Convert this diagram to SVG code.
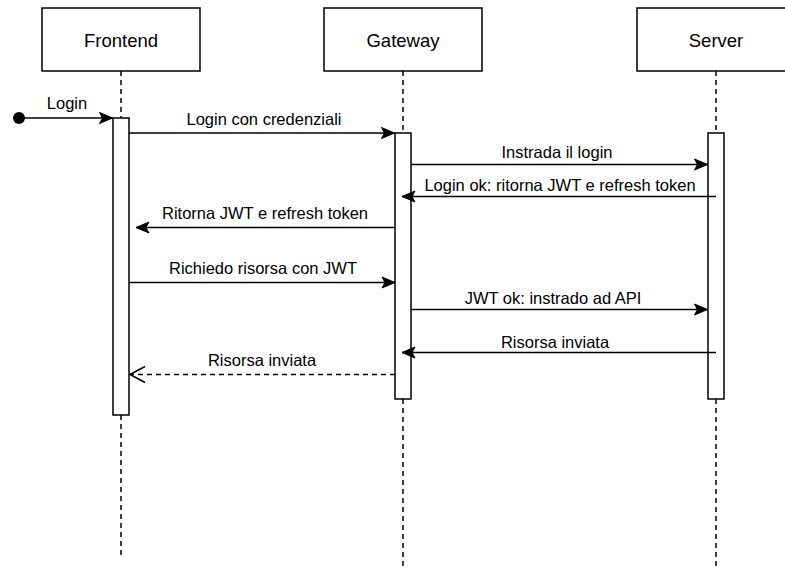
<svg xmlns="http://www.w3.org/2000/svg" width="785" height="568" viewBox="0 0 785 568">
<style>
.box{fill:#fff;stroke:#000;stroke-width:1.5}
.life{fill:none;stroke:#000;stroke-width:1.5;stroke-dasharray:5 4}
.act{fill:#fff;stroke:#000;stroke-width:1.5}
.title{font-family:"Liberation Sans",Arial,sans-serif;font-size:18.5px;fill:#000;text-anchor:middle}
.lbl{font-family:"Liberation Sans",Arial,sans-serif;font-size:16.5px;fill:#000;text-anchor:middle}
.msg{fill:none;stroke:#000;stroke-width:1.5}
.ret{fill:none;stroke:#000;stroke-width:1.5;stroke-dasharray:5 4}
</style>
<defs>
<marker id="arr" viewBox="-14 -7 15 14" refX="0" refY="0" markerWidth="15" markerHeight="14" markerUnits="userSpaceOnUse" orient="auto">
<path d="M0,0 L-13,-5.5 L-10,0 L-13,5.5 Z" fill="#000" stroke="#000" stroke-width="1"/>
</marker>
<marker id="open" viewBox="-17 -10 19 20" refX="0" refY="0" markerWidth="19" markerHeight="20" markerUnits="userSpaceOnUse" orient="auto">
<path d="M-15,-8 L0,0 L-15,8" fill="none" stroke="#000" stroke-width="1.5"/>
</marker>
</defs>
<g id="frontend">
<rect class="box" x="42" y="8" width="158" height="63"/>
<text class="title" x="121" y="46.5">Frontend</text>
<line class="life" x1="121" y1="71" x2="121" y2="118"/>
<line class="life" x1="121" y1="415" x2="121" y2="556"/>
<rect class="act" x="113" y="118" width="16" height="297"/>
</g>
<g id="gateway">
<rect class="box" x="324" y="8" width="158" height="63"/>
<text class="title" x="403" y="46.5">Gateway</text>
<line class="life" x1="403" y1="71" x2="403" y2="133"/>
<line class="life" x1="403" y1="399" x2="403" y2="568"/>
<rect class="act" x="395" y="133" width="16" height="266"/>
</g>
<g id="server">
<rect class="box" x="637" y="8" width="158" height="63"/>
<text class="title" x="716" y="46.5">Server</text>
<line class="life" x1="716" y1="71" x2="716" y2="133"/>
<line class="life" x1="716" y1="399" x2="716" y2="568"/>
<rect class="act" x="708" y="133" width="16" height="266"/>
</g>
<g id="connectors">
<circle cx="19" cy="118" r="6" fill="#000"/>
<line class="msg" x1="19" y1="118" x2="112.5" y2="118" marker-end="url(#arr)"/>
<text class="lbl" x="67" y="109">Login</text>
<line class="msg" x1="129" y1="133" x2="394.5" y2="133" marker-end="url(#arr)"/>
<text class="lbl" x="264" y="125">Login con credenziali</text>
<line class="msg" x1="411" y1="164.5" x2="707.5" y2="164.5" marker-end="url(#arr)"/>
<text class="lbl" x="557" y="158">Instrada il login</text>
<line class="msg" x1="716" y1="196.5" x2="402" y2="196.5" marker-end="url(#arr)"/>
<text class="lbl" x="560" y="191">Login ok: ritorna JWT e refresh token</text>
<line class="msg" x1="395" y1="227.5" x2="136" y2="227.5" marker-end="url(#arr)"/>
<text class="lbl" x="265" y="219">Ritorna JWT e refresh token</text>
<line class="msg" x1="129" y1="282.5" x2="395" y2="282.5" marker-end="url(#arr)"/>
<text class="lbl" x="263" y="274">Richiedo risorsa con JWT</text>
<line class="msg" x1="411" y1="309.5" x2="707.5" y2="309.5" marker-end="url(#arr)"/>
<text class="lbl" x="553" y="304">JWT ok: instrado ad API</text>
<line class="msg" x1="716" y1="352.5" x2="402" y2="352.5" marker-end="url(#arr)"/>
<text class="lbl" x="555" y="347.5">Risorsa inviata</text>
<line class="ret" x1="395" y1="374.5" x2="130" y2="374.5" marker-end="url(#open)"/>
<text class="lbl" x="262" y="366">Risorsa inviata</text>
</g>
</svg>
